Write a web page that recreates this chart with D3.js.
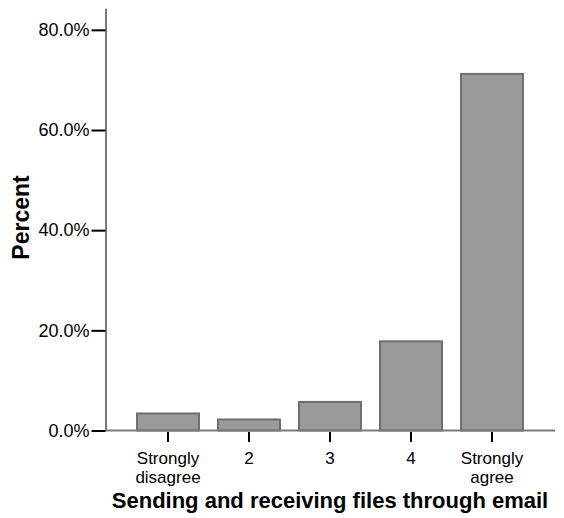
<!DOCTYPE html>
<html>
<head>
<meta charset="utf-8">
<script src="https://cdn.jsdelivr.net/npm/d3@7"></script>
<style>
  html, body { margin: 0; padding: 0; background: #fff; }
  svg { display: block; font-family: "Liberation Sans", Arial, sans-serif; }
</style>
</head>
<body>
<svg id="chart" width="564" height="518"></svg>
<script>
const categories = ["Strongly disagree", "2", "3", "4", "Strongly agree"];
const categoryLines = [["Strongly", "disagree"], ["2"], ["3"], ["4"], ["Strongly", "agree"]];
const percents = [3.4, 2.2, 5.7, 17.8, 71.2];
const yTicks = [0, 20, 40, 60, 80];
const xTitle = "Sending and receiving files through email";
const yTitle = "Percent";

const svg = d3.select("#chart");

const y = d3.scaleLinear().domain([0, 84.3]).range([430.5, 8.3]);
const x = d3.scaleBand().domain(categories).range([127.5, 532.5])
  .paddingInner(0.235).paddingOuter(0.1175);

// bars
svg.append("g").selectAll("rect").data(percents).join("rect")
  .attr("x", (d, i) => x(categories[i]))
  .attr("width", x.bandwidth())
  .attr("y", d => y(d))
  .attr("height", d => y(0) - y(d))
  .attr("fill", "#9a9a9a")
  .attr("stroke", "#6e6e6e")
  .attr("stroke-width", 2);

// x axis line
svg.append("line")
  .attr("x1", 105.5).attr("x2", 555)
  .attr("y1", y(0)).attr("y2", y(0))
  .attr("stroke", "#7a7a7a").attr("stroke-width", 2);

// y axis
const yAxis = d3.axisLeft(y).tickValues(yTicks)
  .tickFormat(d => d.toFixed(1) + "%")
  .tickSize(14).tickPadding(2).tickSizeOuter(0);
const gy = svg.append("g").attr("transform", "translate(105.5,0)").call(yAxis);
gy.select(".domain").attr("stroke", "#7a7a7a").attr("stroke-width", 2);
gy.selectAll(".tick line").attr("stroke", "#000").attr("stroke-width", 2);
gy.selectAll(".tick text").attr("font-size", 18).attr("fill", "#000")
  .attr("font-family", "Liberation Sans, Arial, sans-serif");

// x axis
const xAxis = d3.axisBottom(x).tickSize(10).tickSizeOuter(0).tickFormat("");
const gx = svg.append("g").attr("transform", `translate(0,${y(0) + 1.5})`).call(xAxis);
gx.select(".domain").remove();
gx.selectAll(".tick line").attr("stroke", "#000").attr("stroke-width", 2);
gx.selectAll(".tick").each(function(d, i) {
  const t = d3.select(this).append("text")
    .attr("text-anchor", "middle")
    .attr("font-size", 17)
    .attr("fill", "#000")
    .attr("font-family", "Liberation Sans, Arial, sans-serif");
  categoryLines[i].forEach((line, j) => {
    t.append("tspan").attr("x", 0).attr("y", 31.5 + j * 19.6).text(line);
  });
});

// axis titles
svg.append("text")
  .attr("x", 330).attr("y", 507.5)
  .attr("text-anchor", "middle")
  .attr("font-size", 22).attr("font-weight", "bold").attr("fill", "#000")
  .text(xTitle);

svg.append("text")
  .attr("transform", "translate(29,217.5) rotate(-90)")
  .attr("text-anchor", "middle")
  .attr("font-size", 23).attr("font-weight", "bold").attr("fill", "#000")
  .text(yTitle);
</script>
</body>
</html>
